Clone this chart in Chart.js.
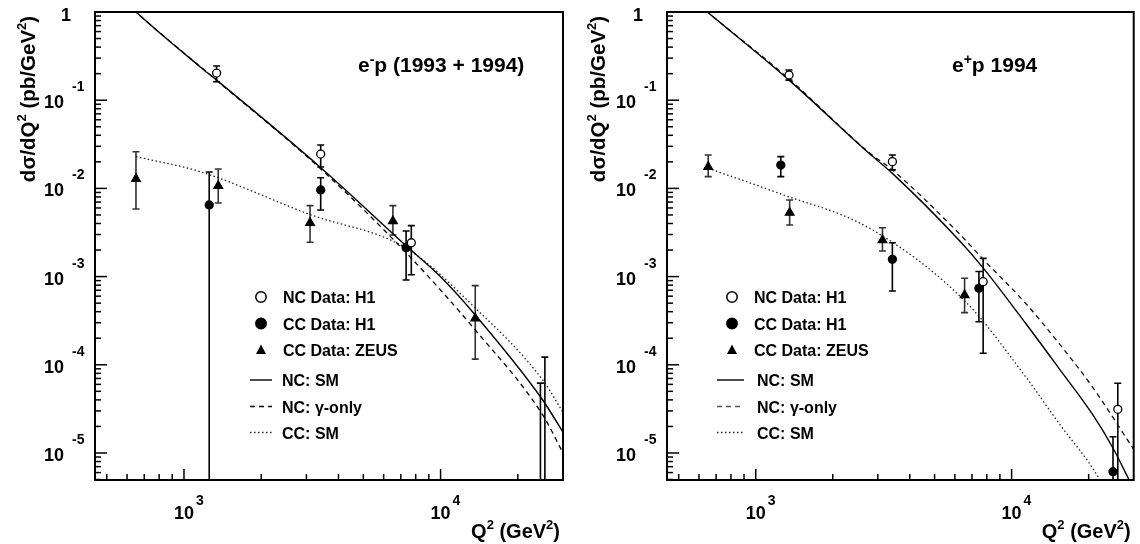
<!DOCTYPE html>
<html>
<head>
<meta charset="utf-8">
<title>d sigma / dQ2 - NC and CC</title>
<script src="https://cdn.jsdelivr.net/npm/chart.js@4.4.1/dist/chart.umd.min.js"></script>
<style>
  html, body { margin: 0; padding: 0; background: #fff; }
  .wrap { display: flex; width: 1140px; height: 544px; }
  .panel { width: 570px; height: 544px; }
</style>
</head>
<body>
<div class="wrap">
  <div class="panel"><canvas id="chartMinus" width="570" height="544"></canvas></div>
  <div class="panel"><canvas id="chartPlus" width="570" height="544"></canvas></div>
</div>
<script>
const FONT = '"Liberation Sans", Arial, Helvetica, sans-serif';

// --- axes (same for both panels) ---
const xMin = 450, xMax = 30000;
const yMin = 4.94e-6, yMax = 1;
const xLabelExps = [3, 4];
const yLabelExps = [0, -1, -2, -3, -4, -5];
const minorMults = [2, 3, 4, 5, 6, 7, 8, 9];
const legendLabels = ['NC Data: H1', 'CC Data: H1', 'CC Data: ZEUS', 'NC: SM', 'NC: \u03b3-only', 'CC: SM'];

// --- e-p (1993 + 1994) data points ---
const emNcQ2  = [1340, 3410, 7690, 25500];
const emNcVal = [0.203, 0.0245, 0.00242, 3e-6];
const emNcLo  = [0.162, 0.0175, 0.00105, 1e-7];
const emNcHi  = [0.244, 0.031, 0.00378, 1.22e-4];

const emCcQ2  = [1254, 3410, 7340, 24500];
const emCcVal = [0.00648, 0.0096, 0.00213, 3e-6];
const emCcLo  = [1e-7, 0.00569, 9.15e-4, 1e-7];
const emCcHi  = [0.01535, 0.0132, 0.00329, 6.2e-5];

const emZeusQ2  = [650, 1360, 3100, 6520, 13650];
const emZeusVal = [0.0128, 0.0107, 0.00408, 0.00427, 3.37e-4];
const emZeusLo  = [0.00584, 0.00683, 0.00245, 0.00296, 1.16e-4];
const emZeusHi  = [0.026, 0.0166, 0.00637, 0.00637, 7.89e-4];

// e-p curves
const emSmQ2   = [600, 650, 1154, 1340, 3381, 7360, 9910, 13650, 25000, 30000];
const emSmVal  = [1.25, 1.0, 0.240, 0.169, 0.0176, 0.00222, 0.00102, 3.67e-4, 3.99e-5, 1.72e-5];
const emGamQ2  = [600, 650, 1340, 3381, 7360, 13650, 25000, 30000];
const emGamVal = [1.25, 1.0, 0.168, 0.0170, 0.00185, 2.48e-4, 2.70e-5, 1.0e-5];
const emCcSmQ2  = [650, 1154, 3090, 7360, 13650, 25000, 30000];
const emCcSmVal = [0.0229, 0.0155, 0.00507, 0.00209, 4.41e-4, 6.73e-5, 2.9e-5];

// --- e+p 1994 data points ---
const epNcQ2  = [1349, 3420, 7740, 26000];
const epNcVal = [0.193, 0.0201, 8.75e-4, 3.13e-5];
const epNcLo  = [0.169, 0.0162, 1.35e-4, 1e-7];
const epNcHi  = [0.22, 0.0239, 0.00161, 6.17e-5];

const epCcQ2  = [1253, 3420, 7450, 24900];
const epCcVal = [0.0184, 0.00157, 7.37e-4, 6.14e-6];
const epCcLo  = [0.0136, 6.87e-4, 3.08e-4, 1e-7];
const epCcHi  = [0.0229, 0.00242, 0.00114, 1.53e-5];

const epZeusQ2  = [652, 1357, 3128, 6550];
const epZeusVal = [0.0176, 0.0053, 0.0026, 6.18e-4];
const epZeusLo  = [0.0136, 0.00385, 0.00195, 3.9e-4];
const epZeusHi  = [0.0239, 0.00738, 0.00358, 9.57e-4];

// e+p curves
const epSmQ2   = [600, 647, 1349, 2773, 3420, 6220, 7680, 11340, 15310, 20660, 24890, 28710, 30000];
const epSmVal  = [1.2, 1.0, 0.169, 0.025, 0.0148, 0.0026, 1.29e-3, 2.96e-4, 9.12e-5, 2.77e-5, 1.14e-5, 5.03e-6, 3.9e-6];
const epGamQ2  = [600, 647, 1349, 2773, 3420, 6220, 7680, 11340, 15310, 20660, 30000];
const epGamVal = [1.2, 1.0, 0.174, 0.0255, 0.0162, 0.0031, 1.61e-3, 4.98e-4, 1.75e-4, 5.65e-5, 1.1e-5];
const epCcSmQ2  = [652, 1233, 2773, 6607, 11340, 15310, 21930, 24000];
const epCcSmVal = [0.0169, 0.00879, 0.00356, 5.19e-4, 7.33e-5, 2.17e-5, 5.16e-6, 3e-6];

const toXY = (xs, ys) => xs.map((v, i) => ({ x: v, y: ys[i] }));

function pointSet(xs, ys, lo, hi, style, fill, radius, barColor) {
    return {
        data: toXY(xs, ys),
        pointStyle: style,
        pointRadius: radius,
        backgroundColor: fill,
        borderColor: '#000',
        borderWidth: 1.3,
        showLine: false,
        errLo: lo, errHi: hi, errColor: barColor
    };
}

function curveSet(xs, ys, dash, width, color) {
    return {
        data: toXY(xs, ys),
        showLine: true,
        pointRadius: 0,
        borderColor: color,
        borderWidth: width,
        borderDash: dash,
        cubicInterpolationMode: 'monotone',
        fill: false
    };
}

// text with superscripts: parts = [[text, size, dy], ...]
function richWidth(ctx, parts) {
    let w = 0;
    parts.forEach(p => { ctx.font = `bold ${p[1]}px ${FONT}`; w += ctx.measureText(p[0]).width; });
    return w;
}
function drawRich(ctx, parts, x, y, align) {
    const w = richWidth(ctx, parts);
    let cx = align === 'center' ? x - w / 2 : align === 'right' ? x - w : x;
    ctx.textAlign = 'left';
    ctx.textBaseline = 'alphabetic';
    parts.forEach(p => {
        ctx.font = `bold ${p[1]}px ${FONT}`;
        ctx.fillText(p[0], cx, y + (p[2] || 0));
        cx += ctx.measureText(p[0]).width;
    });
}

const errorBars = {
    id: 'errorBars',
    beforeDatasetsDraw(chart) {
        const { ctx, chartArea: a, scales: { x, y } } = chart;
        ctx.save();
        ctx.beginPath();
        ctx.rect(a.left, a.top, a.right - a.left, a.bottom - a.top);
        ctx.clip();
        chart.data.datasets.forEach(ds => {
            if (!ds.errLo) return;
            ctx.strokeStyle = ds.errColor;
            ctx.lineWidth = 1.6;
            ds.data.forEach((p, i) => {
                const px = x.getPixelForValue(p.x);
                const yl = y.getPixelForValue(ds.errLo[i]);
                const yh = y.getPixelForValue(ds.errHi[i]);
                ctx.beginPath();
                ctx.moveTo(px, yl); ctx.lineTo(px, yh);
                ctx.moveTo(px - 3.5, yh); ctx.lineTo(px + 3.5, yh);
                ctx.moveTo(px - 3.5, yl); ctx.lineTo(px + 3.5, yl);
                ctx.stroke();
            });
        });
        ctx.restore();
    }
};

const frameAndText = {
    id: 'frameAndText',
    afterDatasetsDraw(chart, args, opts) {
        const { ctx, chartArea: a, scales: { x, y } } = chart;
        ctx.save();
        ctx.fillStyle = '#000';
        ctx.strokeStyle = '#000';

        // frame
        ctx.lineWidth = 2;
        ctx.strokeRect(a.left, a.top, a.right - a.left, a.bottom - a.top);

        // ticks, pointing inside
        ctx.lineWidth = 1.5;
        const seg = (x0, y0, x1, y1) => { ctx.beginPath(); ctx.moveTo(x0, y0); ctx.lineTo(x1, y1); ctx.stroke(); };
        for (let e = Math.floor(Math.log10(yMin)); e <= Math.log10(yMax); e++) {
            const d = Math.pow(10, e);
            if (d >= yMin && d <= yMax) { const py = y.getPixelForValue(d); seg(a.left, py, a.left + 12, py); }
            minorMults.forEach(m => {
                const v = m * d;
                if (v > yMin && v < yMax) { const py = y.getPixelForValue(v); seg(a.left, py, a.left + 6, py); }
            });
        }
        for (let e = Math.floor(Math.log10(xMin)); e <= Math.log10(xMax); e++) {
            const d = Math.pow(10, e);
            if (d >= xMin && d <= xMax) { const px = x.getPixelForValue(d); seg(px, a.bottom, px, a.bottom - 11); }
            minorMults.forEach(m => {
                const v = m * d;
                if (v > xMin && v < xMax) { const px = x.getPixelForValue(v); seg(px, a.bottom, px, a.bottom - 6); }
            });
        }

        // y tick labels
        yLabelExps.forEach(e => {
            const py = y.getPixelForValue(Math.pow(10, e));
            if (e === 0) {
                drawRich(ctx, [['1', 18]], a.left - 24, py + 9, 'right');
            } else {
                drawRich(ctx, [['10', 18]], a.left - 31, py + 8, 'right');
                drawRich(ctx, [[String(e), 14]], a.left - 23, py - 9, 'left');
            }
        });
        // x tick labels
        xLabelExps.forEach(e => {
            const px = x.getPixelForValue(Math.pow(10, e));
            drawRich(ctx, [['10', 18]], px, a.bottom + 39, 'center');
            drawRich(ctx, [[String(e), 14]], px + 12, a.bottom + 25, 'left');
        });

        // axis titles
        drawRich(ctx, [['Q', 20], ['2', 13, -9], [' (GeV', 20], ['2', 13, -9], [')', 20]], a.right - 3, a.bottom + 58, 'right');
        ctx.save();
        ctx.translate(35, 99);
        ctx.rotate(-Math.PI / 2);
        drawRich(ctx, [['d\u03c3/dQ', 20.5], ['2', 13, -9], [' (pb/GeV', 20.5], ['2', 13, -9], [')', 20.5]], 0, 0, 'center');
        ctx.restore();

        // panel title
        drawRich(ctx, opts.title, opts.titleX, 72, 'left');

        // legend
        const rows = opts.rowsY;
        const mx = opts.markerX, tx = opts.textX;
        ctx.lineWidth = 1.5;
        ctx.beginPath(); ctx.arc(mx, rows[0], 5.2, 0, Math.PI * 2);
        ctx.fillStyle = '#fff'; ctx.fill(); ctx.stroke();
        ctx.fillStyle = '#000';
        ctx.beginPath(); ctx.arc(mx, rows[1], 5.2, 0, Math.PI * 2); ctx.fill(); ctx.stroke();
        ctx.beginPath();
        ctx.moveTo(mx, rows[2] - 5.5); ctx.lineTo(mx + 5, rows[2] + 4); ctx.lineTo(mx - 5, rows[2] + 4);
        ctx.closePath(); ctx.fill();
        const dashes = [[], [5, 4], [1.5, 2.5]];
        const dashColors = ['#000', opts.gamColor, '#222'];
        [3, 4, 5].forEach((r, k) => {
            ctx.setLineDash(dashes[k]);
            ctx.strokeStyle = dashColors[k];
            ctx.lineWidth = 1.4;
            seg(opts.lineX0, rows[r], opts.lineX1, rows[r]);
        });
        ctx.setLineDash([]);
        legendLabels.forEach((t, i) => {
            drawRich(ctx, [[t, 16]], i < 3 ? tx : opts.lineTextX, rows[i] + 6, 'left');
        });
        ctx.restore();
    }
};

function makePanel(canvasId, sets, padding, deco) {
    new Chart(document.getElementById(canvasId), {
        type: 'scatter',
        data: { datasets: sets },
        options: {
            responsive: false,
            animation: false,
            layout: { padding: padding },
            plugins: {
                legend: { display: false },
                tooltip: { enabled: false },
                frameAndText: deco
            },
            scales: {
                x: { type: 'logarithmic', min: xMin, max: xMax, display: false },
                y: { type: 'logarithmic', min: yMin, max: yMax, display: false }
            }
        },
        plugins: [errorBars, frameAndText]
    });
}

makePanel('chartMinus', [
    pointSet(emNcQ2, emNcVal, emNcLo, emNcHi, 'circle', '#fff', 4, '#000'),
    pointSet(emCcQ2, emCcVal, emCcLo, emCcHi, 'circle', '#000', 4, '#000'),
    pointSet(emZeusQ2, emZeusVal, emZeusLo, emZeusHi, 'triangle', '#000', 5, '#333'),
    curveSet(emSmQ2, emSmVal, [], 1.4, '#000'),
    curveSet(emGamQ2, emGamVal, [5, 4], 1.3, '#000'),
    curveSet(emCcSmQ2, emCcSmVal, [1.5, 2.5], 1.3, '#222')
], { left: 95, top: 12, right: 7, bottom: 64 }, {
    title: [['e', 21], ['-', 14, -8], ['p (1993 + 1994)', 21]],
    titleX: 358,
    rowsY: [297, 323.5, 350, 380, 406.5, 432.5],
    markerX: 261, textX: 283, lineX0: 250, lineX1: 272, lineTextX: 282,
    gamColor: '#000'
});

makePanel('chartPlus', [
    pointSet(epNcQ2, epNcVal, epNcLo, epNcHi, 'circle', '#fff', 4, '#000'),
    pointSet(epCcQ2, epCcVal, epCcLo, epCcHi, 'circle', '#000', 4, '#000'),
    pointSet(epZeusQ2, epZeusVal, epZeusLo, epZeusHi, 'triangle', '#000', 5, '#333'),
    curveSet(epSmQ2, epSmVal, [], 1.4, '#000'),
    curveSet(epGamQ2, epGamVal, [5, 4], 1.3, '#111'),
    curveSet(epCcSmQ2, epCcSmVal, [1.5, 2.5], 1.3, '#222')
], { left: 97, top: 12, right: 4, bottom: 64 }, {
    title: [['e', 21], ['+', 14, -8], ['p 1994', 21]],
    titleX: 382,
    rowsY: [297, 323.5, 350, 380, 406.5, 432.5],
    markerX: 162, textX: 184, lineX0: 147, lineX1: 174, lineTextX: 187,
    gamColor: '#555'
});
</script>
</body>
</html>
